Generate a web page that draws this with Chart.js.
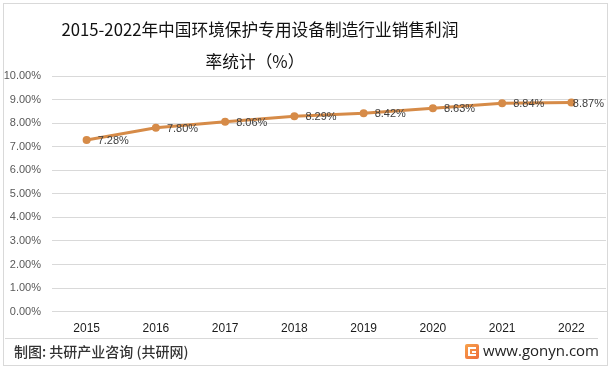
<!DOCTYPE html>
<html>
<head>
<meta charset="utf-8">
<script src="https://cdn.jsdelivr.net/npm/chart.js@4.4.0/dist/chart.umd.min.js"></script>
<style>
  html, body { margin: 0; padding: 0; background: #fff; }
  #wrap { width: 612px; height: 371px; position: relative; }
</style>
</head>
<body>
<div id="wrap"><canvas id="rateChart" width="612" height="371"></canvas></div>
<script>
const years = ["2015", "2016", "2017", "2018", "2019", "2020", "2021", "2022"];
const profitRate = [7.28, 7.80, 8.06, 8.29, 8.42, 8.63, 8.84, 8.87];
const yTicks = [0, 1, 2, 3, 4, 5, 6, 7, 8, 9, 10];
const titleLines = ["2015-2022年中国环境保护专用设备制造行业销售利润", "率统计（%）"];
const sourceText = "制图: 共研产业咨询 (共研网)";
const siteText = "www.gonyn.com";

const lineColor = "#D68B48";
const cjk = "'Noto Sans CJK SC', 'Liberation Sans', sans-serif";

// point labels to the right of each point, kept inside the plot
const pointLabels = {
    id: "pointLabels",
    afterDatasetsDraw(chart) {
        const ctx = chart.ctx;
        const meta = chart.getDatasetMeta(0);
        const right = chart.chartArea.right;
        ctx.save();
        ctx.font = "11px 'Liberation Sans', sans-serif";
        ctx.fillStyle = "#404040";
        ctx.textAlign = "left";
        ctx.textBaseline = "middle";
        meta.data.forEach((pt, i) => {
            const txt = profitRate[i].toFixed(2) + "%";
            const w = ctx.measureText(txt).width;
            const x = Math.min(pt.x + 11, right - w - 2);
            ctx.fillText(txt, x, pt.y + 1);
        });
        ctx.restore();
    }
};

// title (sits left of centre in the original), frame and footer
const frame = {
    id: "frame",
    beforeDraw(chart) {
        const ctx = chart.ctx;
        ctx.save();
        ctx.fillStyle = "#fff";
        ctx.fillRect(0, 0, chart.width, chart.height);
        ctx.restore();
    },
    afterDraw(chart) {
        const ctx = chart.ctx;
        ctx.save();
        ctx.fillStyle = "#111";
        ctx.font = "16.7px " + cjk;
        ctx.textAlign = "center";
        ctx.textBaseline = "middle";
        ctx.fillText(titleLines[0], 260, 30);
        ctx.fillText(titleLines[1], 255, 62);

        ctx.strokeStyle = "#d9d9d9";
        ctx.lineWidth = 1;
        ctx.strokeRect(3.5, 3.5, 604, 362);
        ctx.beginPath();
        ctx.moveTo(5, 338.5);
        ctx.lineTo(598, 338.5);
        ctx.stroke();

        ctx.fillStyle = "#333";
        ctx.font = "500 14px " + cjk;
        ctx.textAlign = "left";
        ctx.fillText(sourceText, 14, 352);

        ctx.font = "15px 'Open Sans', sans-serif";
        ctx.fillStyle = "#222";
        ctx.textAlign = "right";
        ctx.fillText(siteText, 599, 352);

        // logo
        const g = ctx.createLinearGradient(465, 344, 479, 360);
        g.addColorStop(0, "#F7A24B");
        g.addColorStop(1, "#EE6A3A");
        ctx.fillStyle = g;
        ctx.beginPath();
        ctx.roundRect(465, 344, 14, 15, 2);
        ctx.fill();
        ctx.fillStyle = "#fff";
        ctx.fillRect(468, 347, 8, 2);
        ctx.fillRect(468, 347, 2, 9);
        ctx.fillRect(468, 354, 8, 2);
        ctx.fillRect(472, 351, 4, 2);
        ctx.restore();
    }
};

new Chart(document.getElementById("rateChart"), {
    type: "line",
    data: {
        labels: years,
        datasets: [{
            data: profitRate,
            borderColor: lineColor,
            backgroundColor: lineColor,
            borderWidth: 3,
            pointRadius: 4,
            pointBorderWidth: 0,
            pointHoverRadius: 4,
            pointBackgroundColor: lineColor,
            tension: 0,
            fill: false
        }]
    },
    options: {
        responsive: false,
        animation: false,
        devicePixelRatio: 1,
        layout: { padding: { left: 3, right: 6, top: 76, bottom: 25 } },
        plugins: {
            legend: { display: false },
            tooltip: { enabled: false },
            title: { display: false }
        },
        scales: {
            x: {
                offset: true,
                grid: { display: false, drawTicks: false },
                border: { display: true, color: "#d9d9d9" },
                ticks: {
                    color: "#1a1a1a",
                    font: { family: "'Liberation Sans', sans-serif", size: 12 },
                    padding: 10,
                    maxRotation: 0
                }
            },
            y: {
                min: 0,
                max: 10,
                afterBuildTicks(scale) {
                    scale.ticks = yTicks.map(v => ({ value: v }));
                },
                afterFit(scale) { scale.width = 49; },
                grid: { color: "#d9d9d9", drawTicks: false },
                border: { display: false },
                ticks: {
                    color: "#595959",
                    font: { family: "'Liberation Sans', sans-serif", size: 11 },
                    padding: 11,
                    callback: v => v.toFixed(2) + "%"
                }
            }
        }
    },
    plugins: [frame, pointLabels]
});
</script>
</body>
</html>
